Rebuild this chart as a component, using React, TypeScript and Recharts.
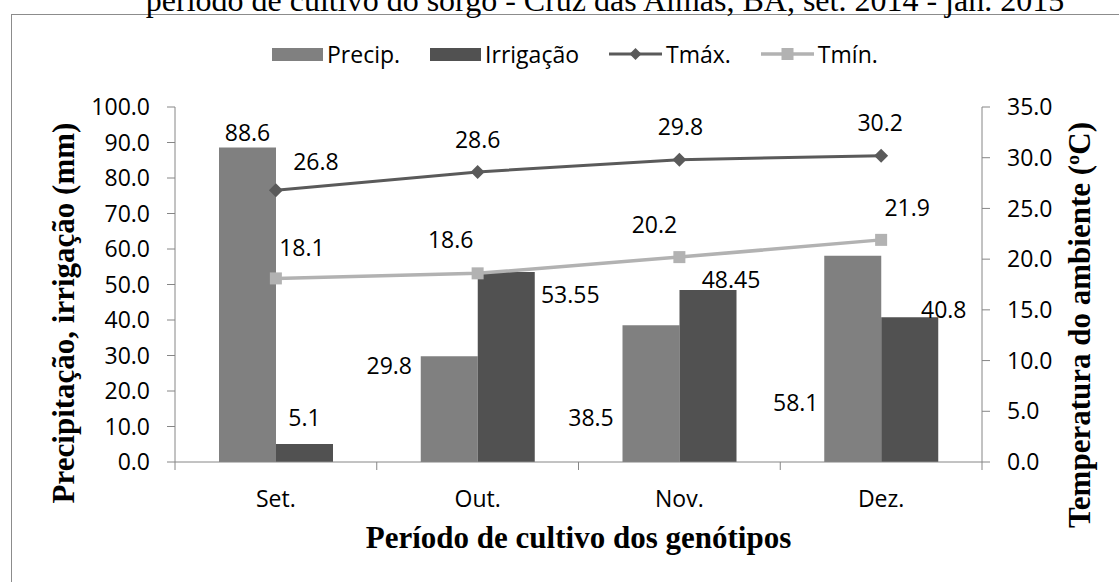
// Precipitação, irrigação e temperatura - período de cultivo do sorgo
import { ComposedChart, Bar, Line, XAxis, YAxis, LabelList } from 'recharts'

// ---------- data ----------
const categories = ['Set.', 'Out.', 'Nov.', 'Dez.']
const precipitacao = [88.6, 29.8, 38.5, 58.1]
const irrigacao = [5.1, 53.55, 48.45, 40.8]
const tMax = [26.8, 28.6, 29.8, 30.2]
const tMin = [18.1, 18.6, 20.2, 21.9]
const mmTicks = [0, 10, 20, 30, 40, 50, 60, 70, 80, 90, 100]
const tempTicks = [0, 5, 10, 15, 20, 25, 30, 35]

const chartData = categories.map((mes, i) => ({
  mes,
  precip: precipitacao[i],
  irrig: irrigacao[i],
  tmax: tMax[i],
  tmin: tMin[i],
}))

// ---------- layout / style ----------
const W = 1119
const H = 582
const PLOT_LEFT = 175
const PLOT_RIGHT = 982
const PLOT_TOP = 107
const PLOT_BOTTOM = 462
const AXIS_W = 80
const XAXIS_H = 40
const BAND = (PLOT_RIGHT - PLOT_LEFT) / categories.length

const SANS = '"Open Sans", "Noto Sans", sans-serif'
const SERIF = '"Liberation Serif", "DejaVu Serif", serif'
const FS = 23
const AXIS = '#868686'
const C_PRECIP = '#808080'
const C_IRRIG = '#515151'
const C_TMAX = '#5a5a5a'
const C_TMIN = '#b2b2b2'

// label nudges (dx, dy) from bar top-centre / point, as placed in the original
const precipShift = [[0, -15], [-60, 10], [-60, 93], [-57, 147]]
const irrigShift = [[0, -26], [64, 23], [23, -10], [34, -7]]
const tmaxShift = [[40, -28], [0, -32], [1, -33], [-1, -33]]
const tminShift = [[26, -30], [-27, -33], [-25, -32], [26, -32]]

function makeLabel(shift: number[][], values: number[], isBar: boolean) {
  return (props: any) => {
    const { x, y, width, value } = props
    let idx = props.index
    if (idx == null) idx = values.indexOf(Number(value))
    const [dx, dy] = shift[idx] || [0, 0]
    const cx = Number(x) + (isBar ? Number(width) / 2 : 0) + dx
    const cy = Number(y) + dy
    return (
      <text
        key={`lbl-${idx}`}
        x={cx}
        y={cy}
        dy="0.35em"
        textAnchor="middle"
        fontFamily={SANS}
        fontSize={FS}
        fill="#000"
      >
        {String(value)}
      </text>
    )
  }
}

function Diamond({ cx, cy, color, r = 7 }: { cx: number; cy: number; color: string; r?: number }) {
  return (
    <path
      d={`M${cx},${cy - r} L${cx + r},${cy} L${cx},${cy + r} L${cx - r},${cy} Z`}
      fill={color}
    />
  )
}

function Square({ cx, cy, color, s = 12 }: { cx: number; cy: number; color: string; s?: number }) {
  return <rect x={cx - s / 2} y={cy - s / 2} width={s} height={s} fill={color} />
}

function MonthTick(props: any) {
  const { x, payload, index } = props
  const last = index === categories.length - 1
  return (
    <g>
      <line x1={x - BAND / 2} x2={x - BAND / 2} y1={PLOT_BOTTOM} y2={PLOT_BOTTOM + 8} stroke={AXIS} />
      {last && (
        <line x1={x + BAND / 2} x2={x + BAND / 2} y1={PLOT_BOTTOM} y2={PLOT_BOTTOM + 8} stroke={AXIS} />
      )}
      <text x={x} y={PLOT_BOTTOM + 45} textAnchor="middle" fontFamily={SANS} fontSize={FS} fill="#000">
        {payload.value}
      </text>
    </g>
  )
}

function LegendRow() {
  const item = { display: 'flex', alignItems: 'center', marginRight: 30 } as const
  const txt = { fontFamily: SANS, fontSize: FS, color: '#000', marginLeft: 4 } as const
  return (
    <div style={{ position: 'absolute', left: 272, top: 36, display: 'flex', alignItems: 'center', height: 36 }}>
      <div style={item}>
        <div style={{ width: 51, height: 13, background: C_PRECIP }} />
        <span style={txt}>Precip.</span>
      </div>
      <div style={item}>
        <div style={{ width: 51, height: 13, background: C_IRRIG }} />
        <span style={txt}>Irrigação</span>
      </div>
      <div style={item}>
        <svg width={53} height={16}>
          <line x1={0} x2={53} y1={8} y2={8} stroke={C_TMAX} strokeWidth={3} />
          <Diamond cx={26.5} cy={8} color={C_TMAX} r={6} />
        </svg>
        <span style={txt}>Tmáx.</span>
      </div>
      <div style={item}>
        <svg width={53} height={16}>
          <line x1={0} x2={53} y1={8} y2={8} stroke={C_TMIN} strokeWidth={3.5} />
          <Square cx={26.5} cy={8} color={C_TMIN} s={12} />
        </svg>
        <span style={txt}>Tmín.</span>
      </div>
    </div>
  )
}

export default function App() {
  return (
    <div style={{ position: 'absolute', left: 0, top: 0, width: W, height: H, overflow: 'hidden', background: '#fff' }}>
      {/* chart frame, runs off the page on the right and bottom */}
      <div
        style={{ position: 'absolute', left: 11, top: 14, width: 1300, height: 800, border: '1px solid #8c8c8c' }}
      />
      <svg width={W} height={H} style={{ position: 'absolute', left: 0, top: 0 }}>
        <text x={605} y={11} textAnchor="middle" fontFamily={SERIF} fontSize={32} fill="#000">
          período de cultivo do sorgo - Cruz das Almas, BA, set. 2014 - jan. 2015
        </text>
      </svg>
      <LegendRow />
      <div style={{ position: 'absolute', left: 0, top: 0 }}>
        <ComposedChart
          width={W}
          height={H}
          data={chartData}
          barGap={0}
          margin={{
            top: PLOT_TOP,
            bottom: H - PLOT_BOTTOM - XAXIS_H,
            left: PLOT_LEFT - AXIS_W,
            right: W - PLOT_RIGHT - AXIS_W,
          }}
        >
          <XAxis
            dataKey="mes"
            height={XAXIS_H}
            axisLine={{ stroke: AXIS }}
            tickLine={false}
            tick={<MonthTick />}
            interval={0}
            label={() => (
              <text
                x={(PLOT_LEFT + PLOT_RIGHT) / 2}
                y={548}
                textAnchor="middle"
                fontFamily={SERIF}
                fontWeight="bold"
                fontSize={31}
                fill="#000"
              >
                Período de cultivo dos genótipos
              </text>
            )}
          />
          <YAxis
            yAxisId="mm"
            width={AXIS_W}
            domain={[0, 100]}
            ticks={mmTicks}
            interval={0}
            tickFormatter={(v: number) => v.toFixed(1)}
            axisLine={{ stroke: AXIS }}
            tickLine={{ stroke: AXIS }}
            tickSize={8}
            tickMargin={17}
            tick={{ fill: '#000', fontSize: FS, fontFamily: SANS }}
            label={() => (
              <text
                transform={`translate(74, 313) rotate(-90)`}
                textAnchor="middle"
                fontFamily={SERIF}
                fontWeight="bold"
                fontSize={31}
                fill="#000"
              >
                Precipitação, irrigação (mm)
              </text>
            )}
          />
          <YAxis
            yAxisId="temp"
            orientation="right"
            width={AXIS_W}
            domain={[0, 35]}
            ticks={tempTicks}
            interval={0}
            tickFormatter={(v: number) => v.toFixed(1)}
            axisLine={{ stroke: AXIS }}
            tickLine={{ stroke: AXIS }}
            tickSize={8}
            tickMargin={17}
            tick={{ fill: '#000', fontSize: FS, fontFamily: SANS }}
            label={() => (
              <text
                transform={`translate(1090, 325) rotate(-90)`}
                textAnchor="middle"
                fontFamily={SERIF}
                fontWeight="bold"
                fontSize={31}
                fill="#000"
              >
                Temperatura do ambiente (ºC)
              </text>
            )}
          />
          <Bar yAxisId="mm" dataKey="precip" name="Precip." fill={C_PRECIP} barSize={57} isAnimationActive={false}>
            <LabelList dataKey="precip" content={makeLabel(precipShift, precipitacao, true)} />
          </Bar>
          <Bar yAxisId="mm" dataKey="irrig" name="Irrigação" fill={C_IRRIG} barSize={57} isAnimationActive={false}>
            <LabelList dataKey="irrig" content={makeLabel(irrigShift, irrigacao, true)} />
          </Bar>
          <Line
            yAxisId="temp"
            dataKey="tmax"
            name="Tmáx."
            stroke={C_TMAX}
            strokeWidth={3}
            dot={(p: any) => <Diamond key={`d-${p.index}`} cx={p.cx} cy={p.cy} color={C_TMAX} />}
            isAnimationActive={false}
          >
            <LabelList dataKey="tmax" content={makeLabel(tmaxShift, tMax, false)} />
          </Line>
          <Line
            yAxisId="temp"
            dataKey="tmin"
            name="Tmín."
            stroke={C_TMIN}
            strokeWidth={3.5}
            dot={(p: any) => <Square key={`s-${p.index}`} cx={p.cx} cy={p.cy} color={C_TMIN} />}
            isAnimationActive={false}
          >
            <LabelList dataKey="tmin" content={makeLabel(tminShift, tMin, false)} />
          </Line>
        </ComposedChart>
      </div>
    </div>
  )
}
